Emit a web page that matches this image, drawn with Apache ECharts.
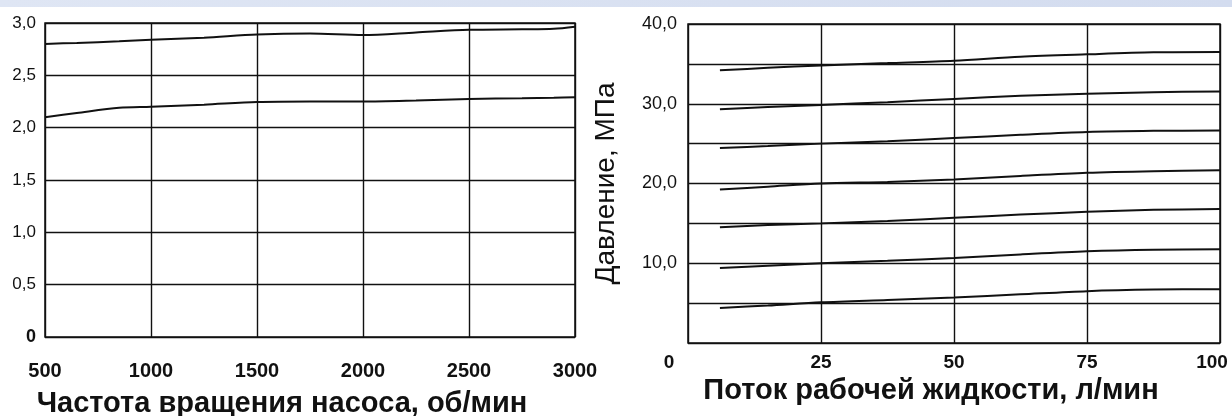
<!DOCTYPE html>
<html>
<head>
<meta charset="utf-8">
<script src="https://cdn.jsdelivr.net/npm/echarts@6/dist/echarts.min.js"></script>
<style>
  html, body { margin: 0; padding: 0; background: #fff; }
  #chart { width: 1232px; height: 416px; }
</style>
</head>
<body>
<div id="chart"></div>
<script>
// Pump speed (rpm) vs. pressure – two characteristic curves
const pumpSpeed = [500, 650, 850, 1000, 1250, 1500, 1750, 2000, 2250, 2500, 2750, 2900, 3000];
const pumpUpper = [2.80, 2.81, 2.825, 2.84, 2.86, 2.89, 2.90, 2.885, 2.91, 2.935, 2.94, 2.945, 2.965];
const pumpLower = [2.10, 2.14, 2.19, 2.20, 2.22, 2.245, 2.25, 2.25, 2.26, 2.275, 2.28, 2.285, 2.29];

// Fluid flow (l/min) vs. pressure – seven pressure settings
const flow = [6, 15, 25, 37.5, 50, 62.5, 75, 87.5, 100];
const press35 = [34.2, 34.5, 34.8, 35.1, 35.4, 35.9, 36.2, 36.45, 36.5];
const press30 = [29.3, 29.6, 29.85, 30.2, 30.6, 31.0, 31.25, 31.45, 31.55];
const press25 = [24.45, 24.7, 25.0, 25.3, 25.7, 26.1, 26.45, 26.6, 26.65];
const press20 = [19.25, 19.6, 20.0, 20.2, 20.5, 20.95, 21.35, 21.55, 21.65];
const press15 = [14.5, 14.8, 15.0, 15.3, 15.7, 16.1, 16.45, 16.7, 16.8];
const press10 = [9.4, 9.7, 10.0, 10.3, 10.65, 11.1, 11.5, 11.7, 11.75];
const press05 = [4.4, 4.7, 5.1, 5.4, 5.7, 6.1, 6.5, 6.7, 6.75];

const leftTitle = 'Частота вращения насоса, об/мин';
const rightTitle = 'Поток рабочей жидкости, л/мин';
const rightYTitle = 'Давление, МПа';

const FONT = '"Liberation Sans", Arial, sans-serif';
const INK = '#111';

const pairs = (xs, ys) => xs.map((x, i) => [x, ys[i]]);
const comma = v => v.toFixed(1).replace('.', ',');

function curve(xIdx, xs, ys) {
  return {
    type: 'line', xAxisIndex: xIdx, yAxisIndex: xIdx,
    data: pairs(xs, ys), smooth: 0.3, symbol: 'none', silent: true,
    lineStyle: { color: INK, width: 2 }
  };
}

const gridLine = { show: true, lineStyle: { color: INK, width: 1.4 } };

const chart = echarts.init(document.getElementById('chart'), null, { renderer: 'canvas' });
chart.setOption({
  backgroundColor: '#fff',
  animation: false,
  graphic: [{
    type: 'rect', left: 0, top: 0, shape: { width: 1232, height: 7 },
    style: {
      fill: new echarts.graphic.LinearGradient(0, 0, 1, 0, [
        { offset: 0, color: '#dfe6f4' }, { offset: 1, color: '#d3dcef' }
      ])
    }, silent: true
  }],
  grid: [
    { left: 45, right: 657, top: 23, bottom: 79, show: true, borderColor: INK, borderWidth: 1.5,
      containLabel: false, outerBoundsMode: 'none' },
    { left: 688, right: 12, top: 24, bottom: 73, show: true, borderColor: INK, borderWidth: 1.5,
      containLabel: false, outerBoundsMode: 'none' }
  ],
  xAxis: [
    {
      gridIndex: 0, type: 'value', min: 500, max: 3000, interval: 500,
      axisLine: { show: false }, axisTick: { show: false }, splitLine: gridLine,
      axisLabel: { show: true, showMinLabel: true, showMaxLabel: true, margin: 24,
        color: INK, fontFamily: FONT, fontWeight: 'bold', fontSize: 20,
        formatter: v => String(v) },
      name: leftTitle, nameLocation: 'middle', nameGap: 52,
      nameTextStyle: { color: INK, fontFamily: FONT, fontWeight: 'bold', fontSize: 29, padding: [0, 56, 0, 0] }
    },
    {
      gridIndex: 1, type: 'value', min: 0, max: 100, interval: 25,
      axisLine: { show: false }, axisTick: { show: false }, splitLine: gridLine,
      axisLabel: { show: true, showMinLabel: true, showMaxLabel: true, margin: 10,
        color: INK, fontFamily: FONT, fontWeight: 'bold', fontSize: 19,
        formatter: v => v === 0 ? '{a|0}' : (v === 100 ? '{b|100}' : String(v)),
        rich: {
          a: { fontFamily: FONT, fontWeight: 'bold', fontSize: 19, color: INK, padding: [0, 38, 0, 0] },
          b: { fontFamily: FONT, fontWeight: 'bold', fontSize: 19, color: INK, padding: [0, 16, 0, 0] }
        } },
      name: rightTitle, nameLocation: 'middle', nameGap: 33,
      nameTextStyle: { color: INK, fontFamily: FONT, fontWeight: 'bold', fontSize: 29, padding: [0, 46, 0, 0] }
    }
  ],
  yAxis: [
    {
      gridIndex: 0, type: 'value', min: 0, max: 3, interval: 0.5,
      axisLine: { show: false }, axisTick: { show: false }, splitLine: gridLine,
      axisLabel: { margin: 9, color: INK, fontFamily: FONT, fontSize: 17,
        formatter: v => v === 0 ? '{z|0}' : comma(v),
        rich: { z: { fontFamily: FONT, fontWeight: 'bold', fontSize: 18, color: INK } } }
    },
    {
      gridIndex: 1, type: 'value', min: 0, max: 40, interval: 5,
      axisLine: { show: false }, axisTick: { show: false }, splitLine: gridLine,
      axisLabel: { margin: 11, color: INK, fontFamily: FONT, fontSize: 18,
        formatter: v => (v > 0 && v % 10 === 0) ? comma(v) : '' },
      name: rightYTitle, nameLocation: 'middle', nameRotate: 90, nameGap: 68,
      nameTextStyle: { color: INK, fontFamily: FONT, fontSize: 28 }
    }
  ],
  series: [
    curve(0, pumpSpeed, pumpUpper),
    curve(0, pumpSpeed, pumpLower),
    curve(1, flow, press35),
    curve(1, flow, press30),
    curve(1, flow, press25),
    curve(1, flow, press20),
    curve(1, flow, press15),
    curve(1, flow, press10),
    curve(1, flow, press05)
  ]
});
</script>
</body>
</html>
